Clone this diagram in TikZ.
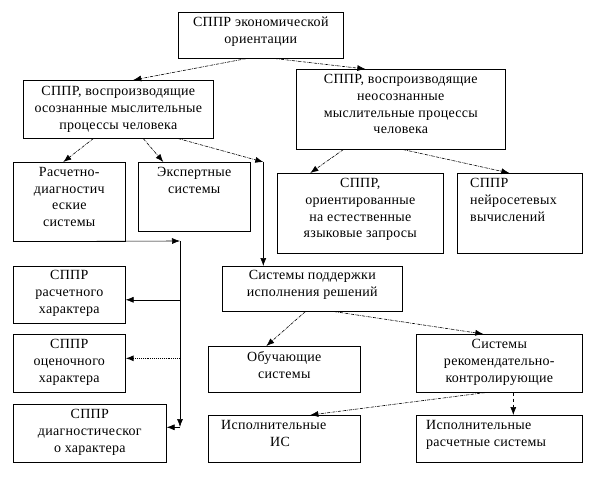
\documentclass[tikz,border=0pt]{standalone}
\usepackage{fontspec}
\setmainfont{Liberation Serif}[LetterSpace=2]
\usetikzlibrary{arrows.meta}

\tikzset{
  box/.style={draw, line width=0.6pt, inner sep=0pt, anchor=north west},
  txt/.style={anchor=north, align=center, inner sep=0pt, font=\fontsize{14}{16.8}\selectfont},
  ltxt/.style={txt, anchor=north west, align=left},
  link/.style={-{Latex[length=8pt,width=6pt]}, line width=0.6pt, densely dashdotted},
  plain/.style={-{Latex[length=8pt,width=6pt]}, line width=0.6pt},
  dots/.style={-{Latex[length=8pt,width=6pt]}, line width=1.1pt, densely dotted},
}

\begin{document}
\begin{tikzpicture}[x=1pt,y=-1pt]
\useasboundingbox (0,0) rectangle (612,486);

% boxes
\node[box, minimum width=165pt, minimum height=46pt] (top) at (178,12) {};
\node[box, minimum width=190pt, minimum height=58pt] (L1) at (23,80) {};
\node[box, minimum width=209pt, minimum height=80pt] (R1) at (296,69) {};
\node[box, minimum width=112pt, minimum height=79pt] (A) at (13,162) {};
\node[box, minimum width=112pt, minimum height=69pt] (B) at (138,162) {};
\node[box, minimum width=166pt, minimum height=80pt] (C) at (277,173) {};
\node[box, minimum width=125pt, minimum height=80pt] (D) at (457,173) {};
\node[box, minimum width=180pt, minimum height=45pt] (E) at (222,266) {};
\node[box, minimum width=112pt, minimum height=57pt] (F) at (13,266) {};
\node[box, minimum width=112pt, minimum height=58pt] (G) at (13,334) {};
\node[box, minimum width=153pt, minimum height=58pt] (H) at (13,404) {};
\node[box, minimum width=152pt, minimum height=46pt] (I) at (208,346) {};
\node[box, minimum width=166pt, minimum height=58pt] (J) at (416,334) {};
\node[box, minimum width=152pt, minimum height=47pt] (K) at (208,415) {};
\node[box, minimum width=166pt, minimum height=47pt] (L) at (416,415) {};

% texts
\node[txt] (top-t) at ([yshift=-5pt]top.north) {СППР экономической\\ориентации};
\node[txt] (L1-t) at ([yshift=-6pt]L1.north) {СППР, воспроизводящие\\осознанные мыслительные\\процессы человека};
\node[txt] (R1-t) at ([yshift=-5pt]R1.north) {СППР, воспроизводящие\\неосознанные\\мыслительные процессы\\человека};
\node[txt] (A-t) at ([yshift=-5pt]A.north) {Расчетно-\\диагностич\\еские\\системы};
\node[txt] (B-t) at ([yshift=-5pt]B.north) {Экспертные\\системы};
\node[txt] (C-t) at ([yshift=-5pt]C.north) {СППР,\\ориентированные\\на естественные\\языковые запросы};
\node[ltxt] (D-t) at ([xshift=13pt,yshift=-5pt]D.north west) {СППР\\нейросетевых\\вычислений};
\node[txt] (E-t) at ([yshift=-4pt]E.north) {Системы поддержки\\исполнения решений};
\node[txt] (F-t) at ([yshift=-4pt]F.north) {СППР\\расчетного\\характера};
\node[txt] (G-t) at ([yshift=-5pt]G.north) {СППР\\оценочного\\характера};
\node[txt] (H-t) at ([yshift=-5pt]H.north) {СППР\\диагностическог\\о характера};
\node[txt] (I-t) at ([yshift=-5pt]I.north) {Обучающие\\системы};
\node[txt] (J-t) at ([yshift=-5pt]J.north) {Системы\\рекомендательно-\\контролирующие};
\node[ltxt] (K-t) at ([xshift=13pt,yshift=-5pt]K.north west) {Исполнительные\\\hspace*{49pt}ИС};
\node[ltxt] (L-t) at ([xshift=10pt,yshift=-5pt]L.north west) {Исполнительные\\расчетные системы};

% top level
\draw[link] ([xshift=-14.5pt]top.south) -- ([xshift=15pt]L1.north);
\draw[link] ([xshift=14.5pt]top.south) -- ([xshift=-35.5pt]R1.north);

% left branch
\coordinate (v1) at ([xshift=-49pt]E.north |- B.north);
\draw[link] ([xshift=-25pt]L1.south) -- ([xshift=-6pt]A.north);
\draw[link] ([xshift=25pt]L1.south) -- ([xshift=-31pt]B.north);
\draw[link] ([xshift=60pt]L1.south) -- (v1);
\draw[plain] (v1) -- ([xshift=-49pt]E.north);

% right branch
\draw[link] ([xshift=-57.5pt]R1.south) -- ([xshift=-50pt]C.north);
\draw[link] ([xshift=2.5pt]R1.south) -- ([xshift=-10.5pt]D.north);

% collector line on the left
\coordinate (h1) at (180,241);
\coordinate (h2) at (180,427);
\draw[plain] (A.south west) -- (h1);
\draw[plain] (h1) -- (h2);
\draw[plain] ([yshift=-5pt]F.east -| h1) -- ([yshift=-5pt]F.east);
\draw[dots] ([yshift=5pt]G.east -| h1) -- ([yshift=5pt]G.east);
\draw[plain] ([yshift=6pt]H.east -| h1) -- ([yshift=6pt]H.east);

% support systems
\draw[link] ([xshift=-7pt]E.south) -- ([xshift=-18pt]I.north);
\draw[link] ([xshift=22pt]E.south) -- ([xshift=-16pt]J.north);
\draw[link] ([xshift=-14pt]J.south) -- ([xshift=26pt]K.north);
\draw[link, dashed] ([xshift=14pt]J.south) -- ([xshift=14pt]L.north);
\end{tikzpicture}
\end{document}
